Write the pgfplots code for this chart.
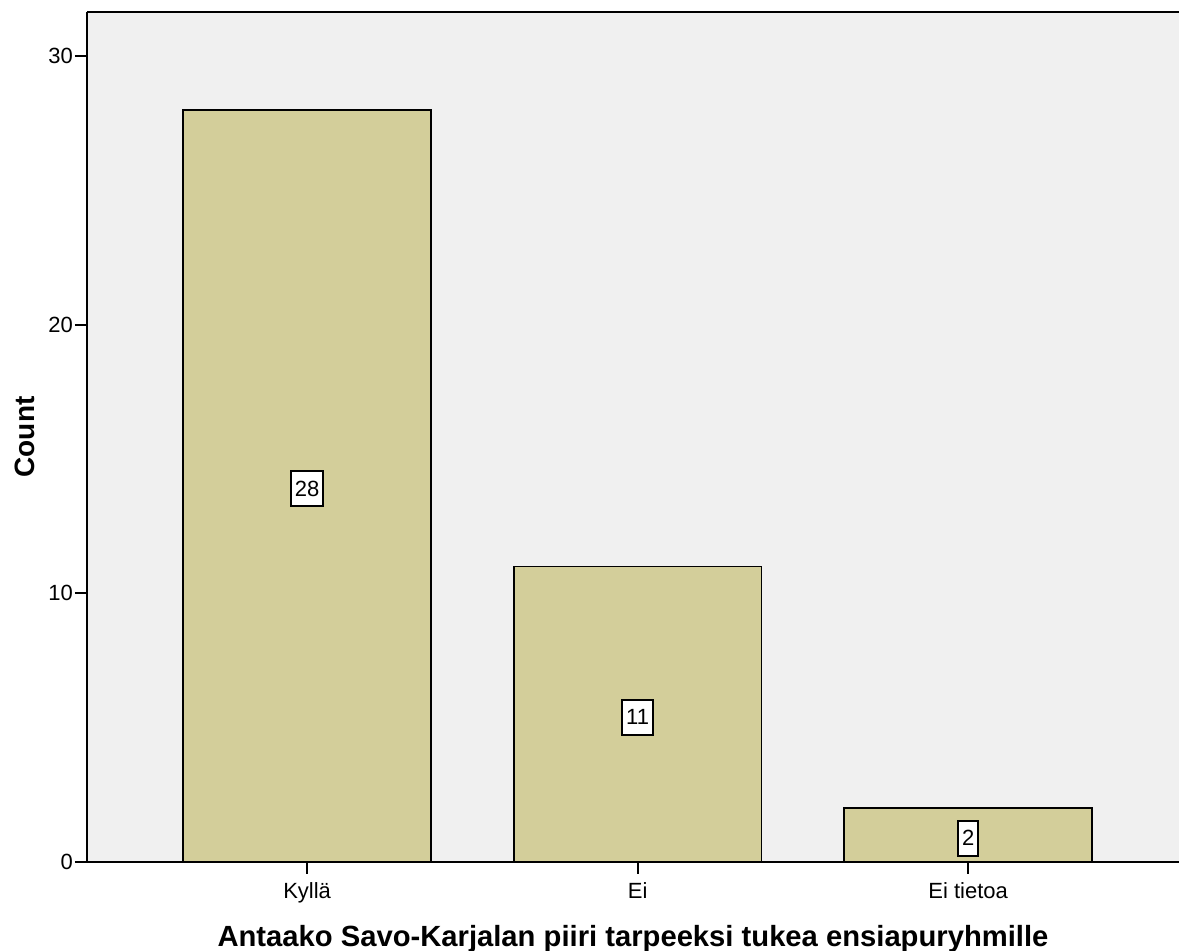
\documentclass[border=0pt]{standalone}
\usepackage{pgfplots}
\pgfplotsset{compat=1.18}
\usepackage{fontspec}
\setmainfont{Liberation Sans}
\definecolor{barfill}{RGB}{211,206,154}
\definecolor{bgc}{RGB}{240,240,240}
\begin{document}
\begin{tikzpicture}
\begin{axis}[
  at={(0,0)}, anchor=south west,
  scale only axis,
  width=546pt, height=425pt,
  xmin=-0.666, xmax=2.638,
  ymin=0, ymax=31.64,
  axis background/.style={fill=bgc},
  separate axis lines,
  axis x line*=box,
  axis y line*=left,
  axis line style={-, line width=1pt, black},
  xtick={0,1,2},
  xticklabels={Kyllä,Ei,Ei tietoa},
  ytick={0,10,20,30},
  xtick pos=bottom, ytick pos=left,
  tick align=outside,
  major tick length=6pt,
  tick style={line width=1pt, black},
  ticklabel style={font=\fontsize{11}{13}\selectfont},
  xticklabel style={yshift=-1pt},
  yticklabel style={xshift=2.5pt},
  /pgf/number format/assume math mode=true,
  xlabel={\textbf{Antaako Savo-Karjalan piiri tarpeeksi tukea ensiapuryhmille}},
  ylabel={\textbf{Count}},
  xlabel style={font=\fontsize{14.6}{16}\selectfont, yshift=-4pt},
  ylabel style={font=\fontsize{14}{16}\selectfont, yshift=0pt},
  clip=false,
]
\addplot[ybar, bar width=0.75, fill=barfill, draw=black, line width=0.9pt]
  coordinates {(0,28) (1,11) (2,2)};
\addplot[only marks, mark=none,
  nodes near coords, point meta=explicit symbolic,
  every node near coord/.style={anchor=center, yshift=-1.5pt, fill=white, draw=black, line width=1pt,
    font=\fontsize{11}{13}\selectfont, inner xsep=2pt, inner ysep=0pt,
    minimum height=17.5pt}]
  coordinates {(0,14) [28] (1,5.5) [11] (2,1) [2]};
\end{axis}
\pgfresetboundingbox
\path[use as bounding box] (-43.5pt,-44.5pt) rectangle (546pt,431pt);
\end{tikzpicture}
\end{document}
